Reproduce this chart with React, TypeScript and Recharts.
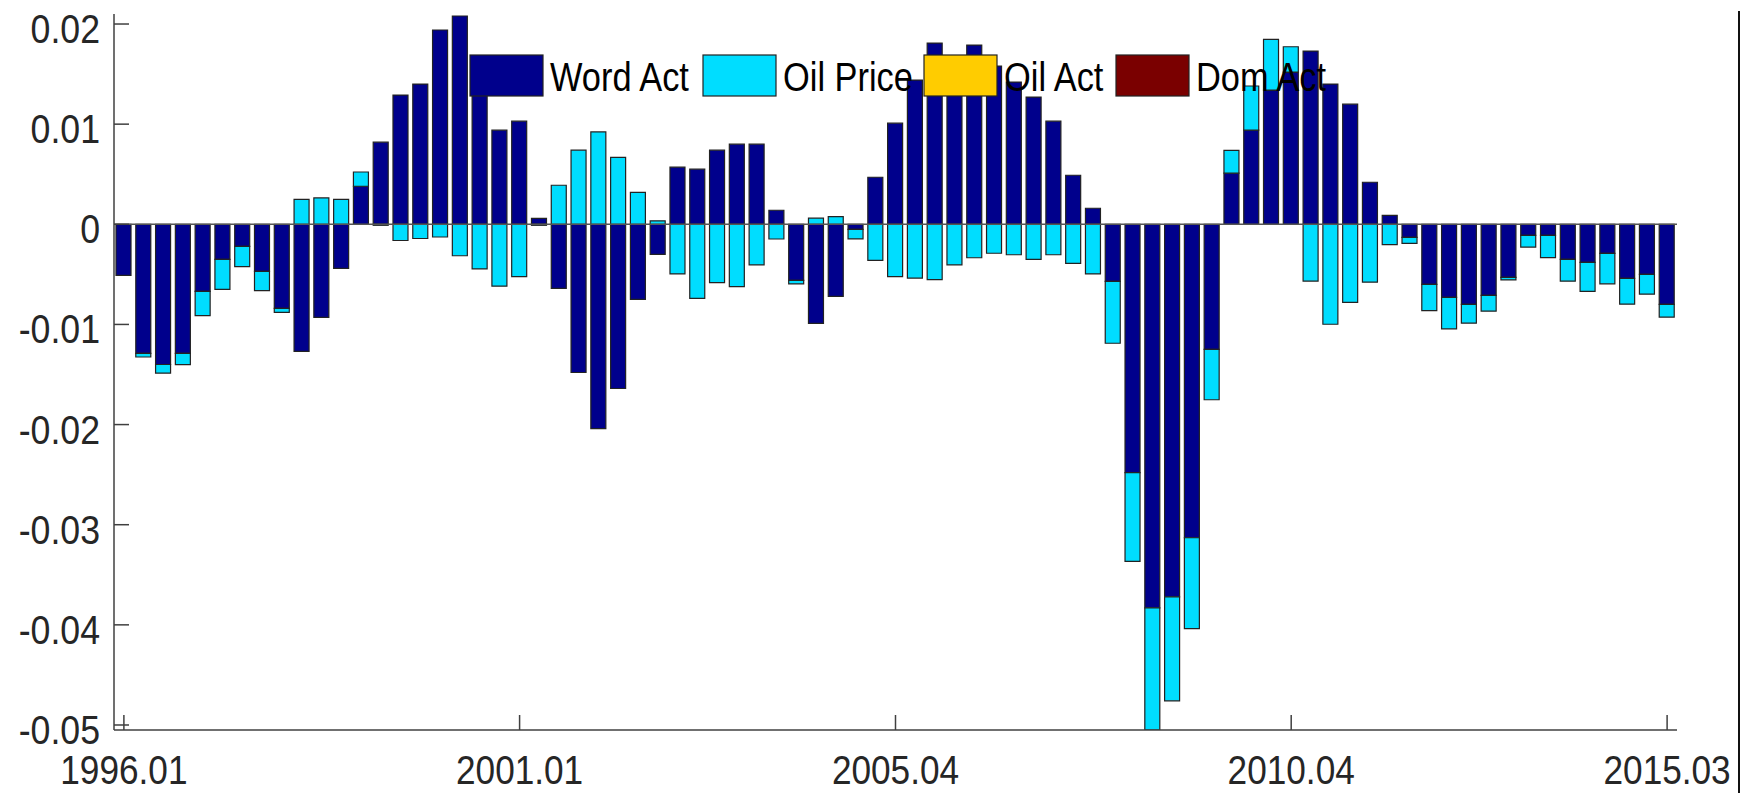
import React from "react";
import {
  BarChart,
  Bar,
  XAxis,
  YAxis,
  ReferenceLine,
  Legend,
} from "recharts";

const W = 1741;
const H = 793;
const FONT = "'Liberation Sans', Arial, sans-serif";

// 1996Q1 .. 2015Q3, labelled year.quarter
const years = [1996, 1997, 1998, 1999, 2000, 2001, 2002, 2003, 2004, 2005, 2006, 2007, 2008, 2009, 2010, 2011, 2012, 2013, 2014, 2015];
const quarters = ["01", "02", "03", "04"];
const categories: string[] = [];
years.forEach((y) => quarters.forEach((q) => categories.push(`${y}.${q}`)));
categories.length = 79;

const xTicks = ["1996.01", "2001.01", "2005.04", "2010.04", "2015.03"];
const yTicks = [-0.05, -0.04, -0.03, -0.02, -0.01, 0, 0.01, 0.02];

const wordAct = [
  -0.0051, -0.0129, -0.014, -0.0129, -0.0067, -0.0035, -0.0022, -0.0047, -0.0084, -0.0127,
  -0.0093, -0.0044, 0.0038, 0.0082, 0.0129, 0.014, 0.0194, 0.0208, 0.015, 0.0094,
  0.0103, 0.0006, -0.0064, -0.0148, -0.0204, -0.0164, -0.0075, -0.003, 0.0057, 0.0055,
  0.0074, 0.008, 0.008, 0.0014, -0.0056, -0.0099, -0.0072, -0.0005, 0.0047, 0.0101,
  0.0144, 0.0181, 0.0155, 0.0179, 0.0158, 0.0142, 0.0127, 0.0103, 0.0049, 0.0016,
  -0.0057, -0.0248, -0.0383, -0.0372, -0.0313, -0.0125, 0.0051, 0.0094, 0.0134, 0.0152,
  0.0173, 0.014, 0.012, 0.0042, 0.0009, -0.0013, -0.006, -0.0073, -0.008, -0.0071,
  -0.0053, -0.0011, -0.0011, -0.0035, -0.0038, -0.0029, -0.0054, -0.005, -0.008,
];

const oilPrice = [
  0, -0.00035, -0.00086, -0.00111, -0.00243, -0.00299, -0.00203, -0.00193, -0.0004, 0.00248,
  0.00263, 0.00248, 0.00142, -0.0001, -0.00162, -0.00142, -0.00127, -0.00314, -0.00446, -0.00618,
  -0.00522, -0.0001, 0.0039, 0.0074, 0.00922, 0.00669, 0.00319, 0.00035, -0.00496, -0.0074,
  -0.00583, -0.00623, -0.00405, -0.00147, -0.00035, 0.00061, 0.00076, -0.00096, -0.0036, -0.00522,
  -0.00537, -0.00552, -0.00405, -0.00334, -0.00289, -0.00304, -0.0035, -0.00304, -0.0039, -0.00496,
  -0.00618, -0.00887, -0.0125, -0.01039, -0.00907, -0.00502, 0.00228, 0.00441, 0.00507, 0.00253,
  -0.00567, -0.00998, -0.0078, -0.00578, -0.00203, -0.00061, -0.00263, -0.00314, -0.00187, -0.00157,
  -0.00025, -0.00117, -0.00223, -0.00218, -0.00289, -0.00304, -0.00258, -0.00198, -0.00127,
];

const oilAct = [
  0, 0, 0, 0, 0, 0, 0, 0, 0, 0, 0, 0, 0, 0, 0, 0, 0, 0, 0, 0,
  0, 0, 0, 0, 0, 0, 0, 0, 0, 0, 0, 0, 0, 0, 0, 0, 0, 0, 0, 0,
  0, 0, 0, 0, 0, 0, 0, 0, 0, 0, 0, 0, 0, 0, 0, 0, 0, 0, 0, 0,
  0, 0, 0, 0, 0, 0, 0, 0, 0, 0, 0, 0, 0, 0, 0, 0, 0, 0, 0,
];

const domAct = [
  0, 0, 0, 0, 0, 0, 0, 0, 0, 0, 0, 0, 0, 0, 0, 0, 0, 0, 0, 0,
  0, 0, 0, 0, 0, 0, 0, 0, 0, 0, 0, 0, 0, 0, 0, 0, 0, 0, 0, 0,
  0, 0, 0, 0, 0, 0, 0, 0, 0, 0, 0, 0, 0, 0, 0, 0, 0, 0, 0, 0,
  0, 0, 0, 0, 0, 0, 0, 0, 0, 0, 0, 0, 0, 0, 0, 0, 0, 0, 0,
];

const seriesKeys = ["wordAct", "oilPrice", "oilAct", "domAct"];
const seriesNames = ["Word Act", "Oil Price", "Oil Act", "Dom Act"];
const seriesColors = ["#00008c", "#00ddff", "#ffcc00", "#7a0000"];

const data = categories.map((q, i) => ({
  q,
  wordAct: wordAct[i],
  oilPrice: oilPrice[i],
  oilAct: oilAct[i],
  domAct: domAct[i],
}));

const YTick = (props: any) => {
  const { x, y, payload } = props;
  const v = payload.value;
  const label = Math.abs(v) < 1e-9 ? "0" : v.toFixed(2);
  return (
    <text
      transform={`translate(${x},${y + 19}) scale(0.87,1)`}
      textAnchor="end"
      fontSize={41}
      fontFamily={FONT}
      fill="#262626"
    >
      {label}
    </text>
  );
};

const XTick = (props: any) => {
  const { x, y, payload } = props;
  return (
    <text
      transform={`translate(${x},${y + 54}) scale(0.88,1)`}
      textAnchor="middle"
      fontSize={40}
      fontFamily={FONT}
      fill="#262626"
    >
      {payload.value}
    </text>
  );
};

// legend item positions (swatch left edge)
const legendX = [470, 703, 924, 1116];

const LegendBox = () => (
  <svg width={W} height={110} style={{ display: "block" }}>
    {seriesNames.map((name, i) => (
      <g key={name}>
        <rect x={legendX[i]} y={55} width={73} height={41} fill={seriesColors[i]} stroke="#222" strokeWidth={1.2} />
        <text
          transform={`translate(${legendX[i] + 80},91) scale(0.86,1)`}
          fontSize={40}
          fontFamily={FONT}
          fill="#000"
        >
          {name}
        </text>
      </g>
    ))}
  </svg>
);

export default function App() {
  return (
    <div style={{ position: "relative", width: W, height: H, background: "#fff" }}>
      <style>{"body{margin:0}"}</style>
      <BarChart
        width={W}
        height={H}
        data={data}
        stackOffset="sign"
        margin={{ top: 14, right: 64, bottom: 3, left: 0 }}
      >
        <XAxis
          dataKey="q"
          ticks={xTicks}
          interval={0}
          height={60}
          tickSize={-15}
          tickMargin={15}
          tick={<XTick />}
          axisLine={{ stroke: "#404040", strokeWidth: 1.5 }}
          tickLine={{ stroke: "#404040", strokeWidth: 1.5 }}
        />
        <YAxis
          type="number"
          width={114}
          domain={[-0.0505, 0.021]}
          allowDataOverflow
          ticks={yTicks}
          interval={0}
          tickSize={-15}
          tickMargin={29}
          tick={<YTick />}
          axisLine={{ stroke: "#404040", strokeWidth: 1.5 }}
          tickLine={{ stroke: "#404040", strokeWidth: 1.5 }}
        />
        <ReferenceLine y={0} stroke="#555" strokeWidth={1.5} />
        {seriesKeys.map((k, i) => (
          <Bar
            key={k}
            dataKey={k}
            name={seriesNames[i]}
            stackId="a"
            fill={seriesColors[i]}
            stroke="#222"
            strokeWidth={1.2}
            barSize={15}
            isAnimationActive={false}
          />
        ))}
        <Legend
          layout="vertical"
          align="center"
          verticalAlign="middle"
          wrapperStyle={{ position: "absolute", left: 0, top: 0, width: W, height: 110, pointerEvents: "none" }}
          content={() => <LegendBox />}
        />
      </BarChart>
      <div style={{ position: "absolute", left: 1738, top: 11, width: 2, height: H - 11, background: "#111" }} />
    </div>
  );
}
